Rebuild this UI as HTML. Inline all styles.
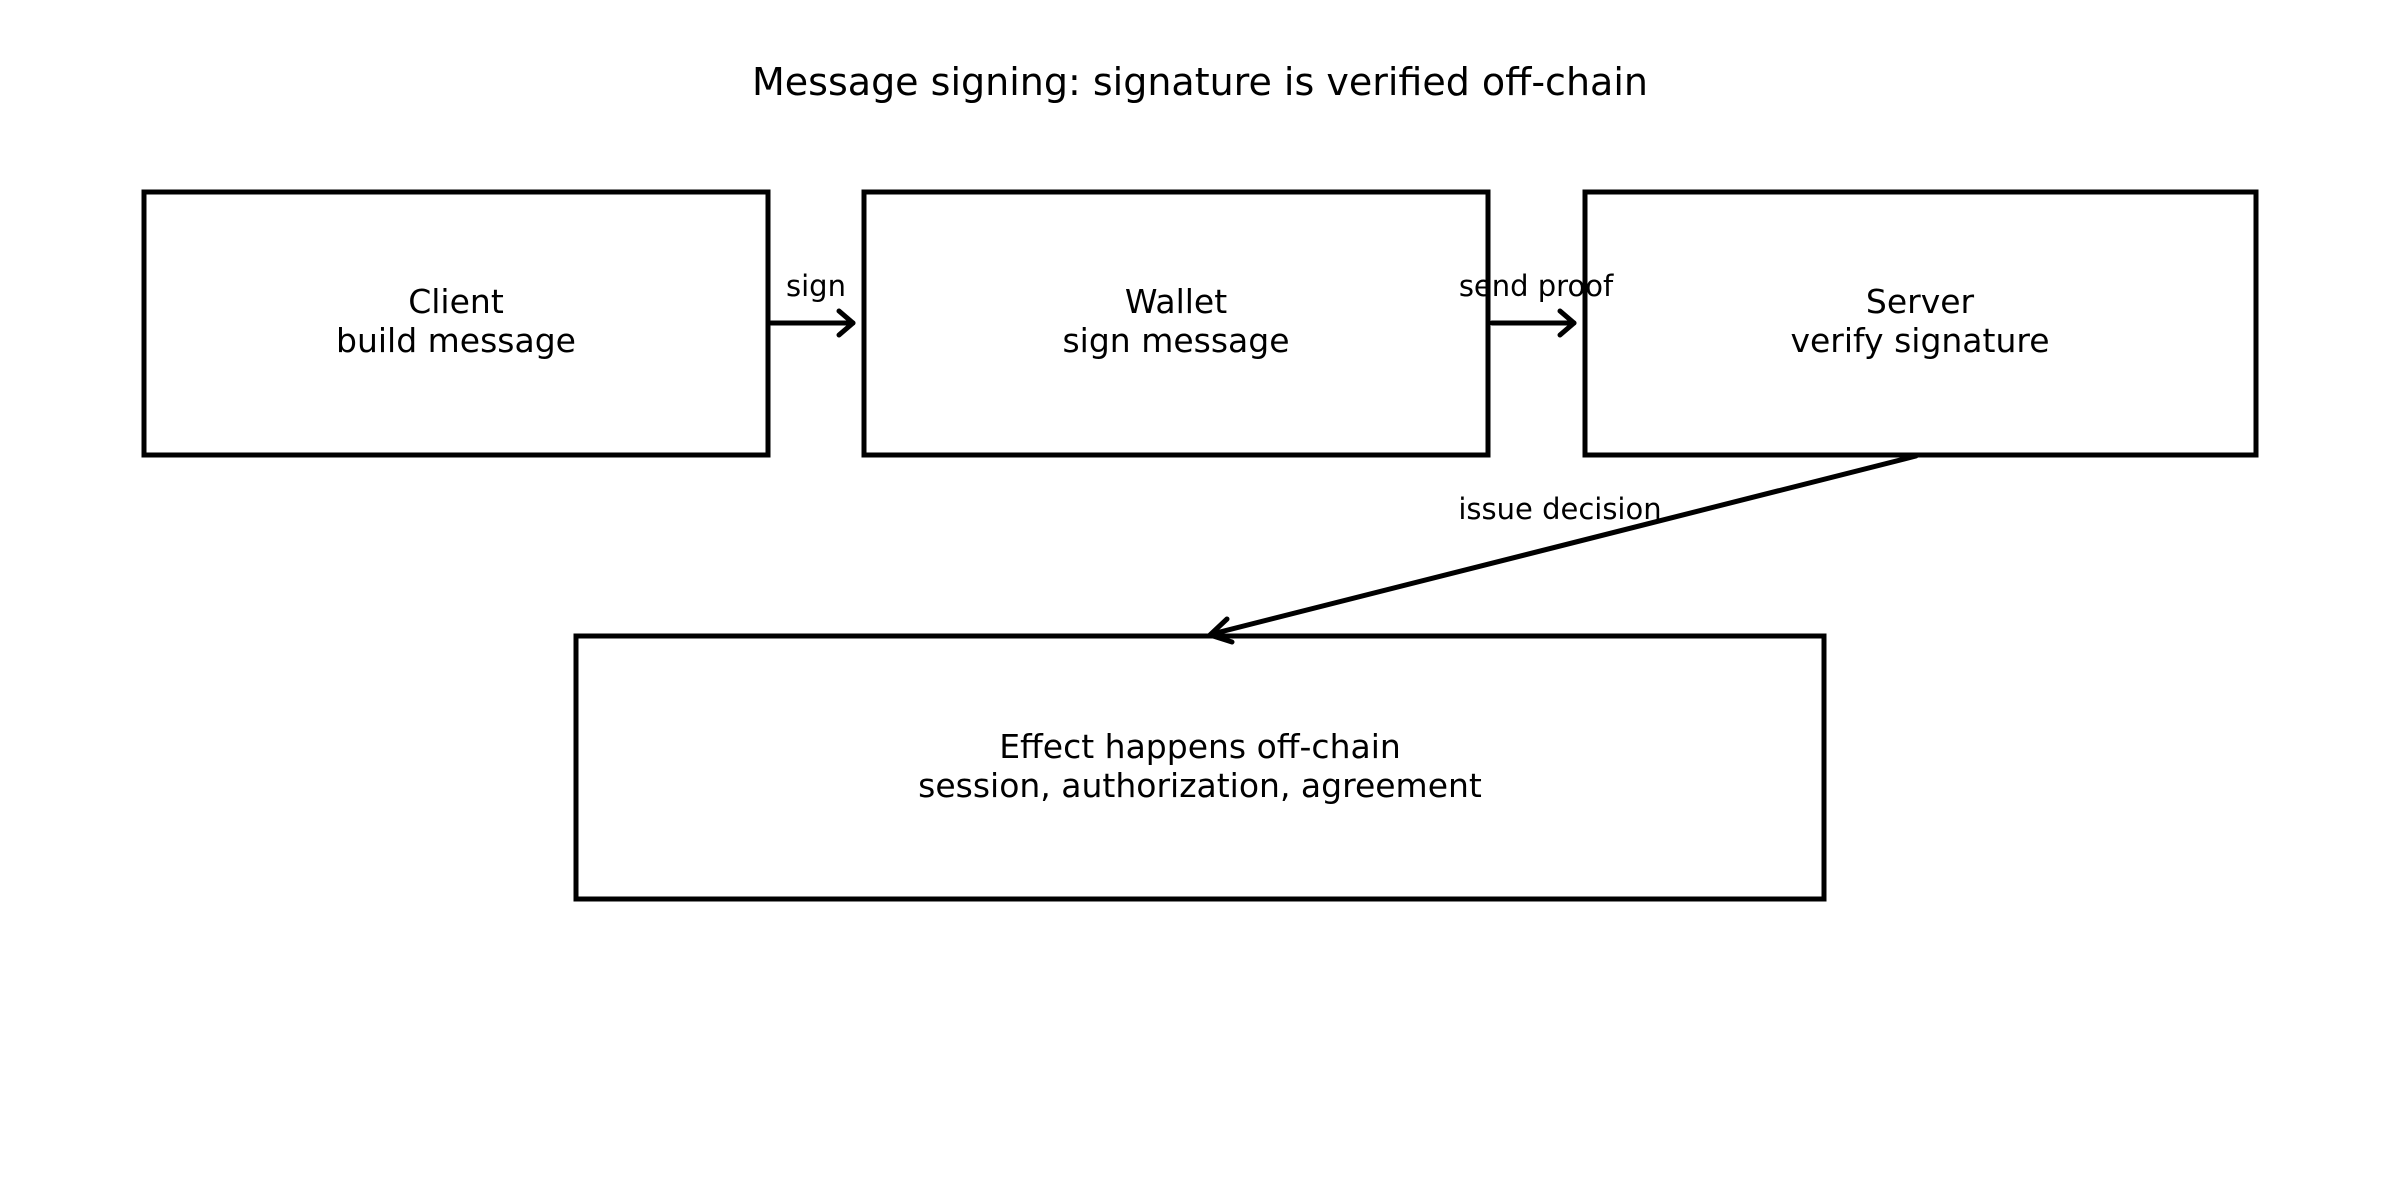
<!DOCTYPE html>
<html><head><meta charset="utf-8"><style>
html,body{margin:0;padding:0;background:#fff;}
svg{display:block;}
text{font-family:"DejaVu Sans","Liberation Sans",sans-serif;fill:#000;}
</style></head><body>
<svg width="2400" height="1200" viewBox="0 0 2400 1200" xmlns="http://www.w3.org/2000/svg">
<text x="1200" y="95" font-size="38" text-anchor="middle">Message signing: signature is verified off-chain</text>
<g fill="none" stroke="#000" stroke-width="5">
<rect x="144" y="192" width="624" height="263"/>
<rect x="864" y="192" width="624" height="263"/>
<rect x="1585" y="192" width="671" height="263"/>
<rect x="576" y="636" width="1248" height="263"/>
<g stroke-linecap="round" stroke-linejoin="round">
<line x1="771" y1="323" x2="853" y2="323"/>
<polyline points="839,311 853,323 839,335"/>
<line x1="1492" y1="323" x2="1574" y2="323"/>
<polyline points="1560,311 1574,323 1560,335"/>
<line x1="1916" y1="456" x2="1212" y2="634"/>
<polyline points="1227,619 1210,635 1232,642"/>
</g>
</g>
<g font-size="33" text-anchor="middle">
<text x="456" y="313">Client</text><text x="456" y="352">build message</text>
<text x="1176" y="313">Wallet</text><text x="1176" y="352">sign message</text>
<text x="1920" y="313">Server</text><text x="1920" y="352">verify signature</text>
<text x="1200" y="758">Effect happens off-chain</text><text x="1200" y="797">session, authorization, agreement</text>
</g>
<g font-size="29" text-anchor="middle">
<text x="816" y="296">sign</text>
<text x="1536" y="296">send proof</text>
<text x="1560" y="519">issue decision</text>
</g>
</svg>
</body></html>
